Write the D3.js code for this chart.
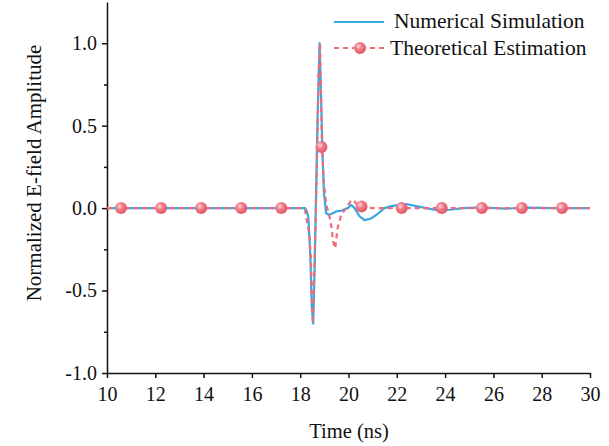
<!DOCTYPE html>
<html><head><meta charset="utf-8">
<script src="https://cdn.jsdelivr.net/npm/d3@7"></script>
<style>body{margin:0;background:#fff}svg{display:block}text{font-family:"Liberation Serif","Times New Roman",serif;fill:#111}</style>
</head><body><svg id="c" width="609" height="446"></svg>
<script>
// Numerical simulation (time ns, normalized amplitude)
const simT = [10, 18.2, 18.28, 18.34, 18.42, 18.48, 18.54, 18.6, 18.66, 18.72, 18.8, 18.86, 18.92, 18.98, 19.07, 19.18, 19.28, 19.49, 19.69, 19.97, 20.11, 20.25, 20.46, 20.66, 20.94, 21.22, 21.49, 21.77, 22.05, 22.39, 22.8, 23.22, 23.78, 24.2, 24.73, 25.5, 26.5, 27.5, 28.5, 30];
const simY = [0, 0, -0.02, -0.06, -0.3, -0.6, -0.70, -0.35, 0.1, 0.55, 1.0, 0.7, 0.35, 0.1, -0.03, -0.04, -0.036, -0.02, -0.016, 0.0, 0.02, 0.0, -0.05, -0.073, -0.063, -0.033, 0.0, 0.012, 0.018, 0.024, 0.012, 0.0, -0.016, -0.01, 0.0, 0.004, -0.003, 0.003, 0.0, 0.0];
// Theoretical estimation
const thT = [10, 18.1, 18.2, 18.3, 18.38, 18.44, 18.52, 18.6, 18.68, 18.76, 18.82, 18.86, 18.9, 18.98, 19.08, 19.2, 19.3, 19.36, 19.45, 19.55, 19.7, 19.9, 20.1, 20.2, 20.35, 20.6, 21.0, 30];
const thY = [0, 0, -0.01, -0.1, -0.16, -0.3, -0.70, -0.3, 0.2, 0.8, 1.0, 0.7, 0.37, 0.15, 0.02, -0.04, -0.12, -0.2, -0.245, -0.12, -0.04, 0.0, 0.045, 0.05, 0.02, 0.01, 0.0, 0];
// Theoretical estimation markers
const markT = [10.58, 12.24, 13.90, 15.56, 17.22, 18.88, 20.54, 22.20, 23.86, 25.52, 27.18, 28.84];
const markY = [0, 0, 0, 0, 0, 0.37, 0.01, 0, 0, 0, 0, 0];
const xTicks = [10, 12, 14, 16, 18, 20, 22, 24, 26, 28, 30];
const yTicks = [-1.0, -0.5, 0.0, 0.5, 1.0];
const yMinor = [-0.75, -0.25, 0.25, 0.75];
const seriesNames = ["Numerical Simulation", "Theoretical Estimation"];

const blue = "#3aa8e2", red = "#ee6b78";
const svg = d3.select("#c");
const x = d3.scaleLinear().domain([10, 30]).range([107, 590]);
const y = d3.scaleLinear().domain([-1, 1.25]).range([373, 2]);

const defs = svg.append("defs");
const g = defs.append("radialGradient").attr("id", "ball").attr("cx", "0.38").attr("cy", "0.35").attr("r", "0.65");
g.append("stop").attr("offset", "0").attr("stop-color", "#ffd6da");
g.append("stop").attr("offset", "0.45").attr("stop-color", "#f07a86");
g.append("stop").attr("offset", "1").attr("stop-color", "#e05866");

// Axes
const xa = svg.append("g").attr("transform", `translate(0,${y(-1)})`)
  .call(d3.axisBottom(x).tickValues(xTicks).tickFormat(d => String(d)).tickSize(5).tickPadding(8.5).tickSizeOuter(0));
const ya = svg.append("g").attr("transform", `translate(${x(10)},0)`)
  .call(d3.axisLeft(y).tickValues(yTicks).tickFormat(d => d.toFixed(1)).tickSize(5).tickPadding(5).tickSizeOuter(0));
svg.append("g").attr("transform", `translate(${x(10)},0)`)
  .call(d3.axisLeft(y).tickValues(yMinor).tickFormat("").tickSize(3).tickSizeOuter(0))
  .select(".domain").remove();
[xa, ya].forEach(a => {
  a.selectAll("text").style("font-family", "Liberation Serif").style("font-size", "20px").attr("fill", "#111");
});
svg.selectAll("g path.domain, g line").attr("stroke", "#111").attr("stroke-width", 1.5);

// Axis titles
svg.append("text").attr("x", 349).attr("y", 438).attr("text-anchor", "middle").style("font-size", "20.5px").text("Time (ns)");
svg.append("text").attr("transform", "translate(41,173) rotate(-90)").attr("text-anchor", "middle").style("font-size", "21px").text("Normalized E-field Amplitude");

const line = d3.line().x(d => x(d[0])).y(d => y(d[1]));
const simData = simT.map((t, i) => [t, simY[i]]);
const thData = thT.map((t, i) => [t, thY[i]]);

svg.append("path").datum(simData).attr("d", line).attr("fill", "none").attr("stroke", blue).attr("stroke-width", 2.2).attr("stroke-linejoin", "round");
svg.append("path").datum(thData).attr("d", line).attr("fill", "none").attr("stroke", red).attr("stroke-width", 2.2).attr("stroke-dasharray", "5,4").attr("stroke-linejoin", "round");
svg.selectAll("circle.m").data(markT.map((t, i) => [t, markY[i]])).enter().append("circle").attr("class", "m")
  .attr("cx", d => x(d[0])).attr("cy", d => y(d[1])).attr("r", 6).attr("fill", "url(#ball)");

// Legend
const lg = svg.append("g");
lg.append("line").attr("x1", 334).attr("x2", 384).attr("y1", 22).attr("y2", 22).attr("stroke", blue).attr("stroke-width", 2.2);
lg.append("text").attr("x", 394).attr("y", 28).style("font-size", "21.5px").text(seriesNames[0]);
lg.append("line").attr("x1", 334).attr("x2", 384).attr("y1", 48).attr("y2", 48).attr("stroke", red).attr("stroke-width", 2.2).attr("stroke-dasharray", "5,4");
lg.append("circle").attr("cx", 360).attr("cy", 48).attr("r", 6).attr("fill", "url(#ball)");
lg.append("text").attr("x", 390).attr("y", 55).style("font-size", "21.5px").text(seriesNames[1]);
</script></body></html>
